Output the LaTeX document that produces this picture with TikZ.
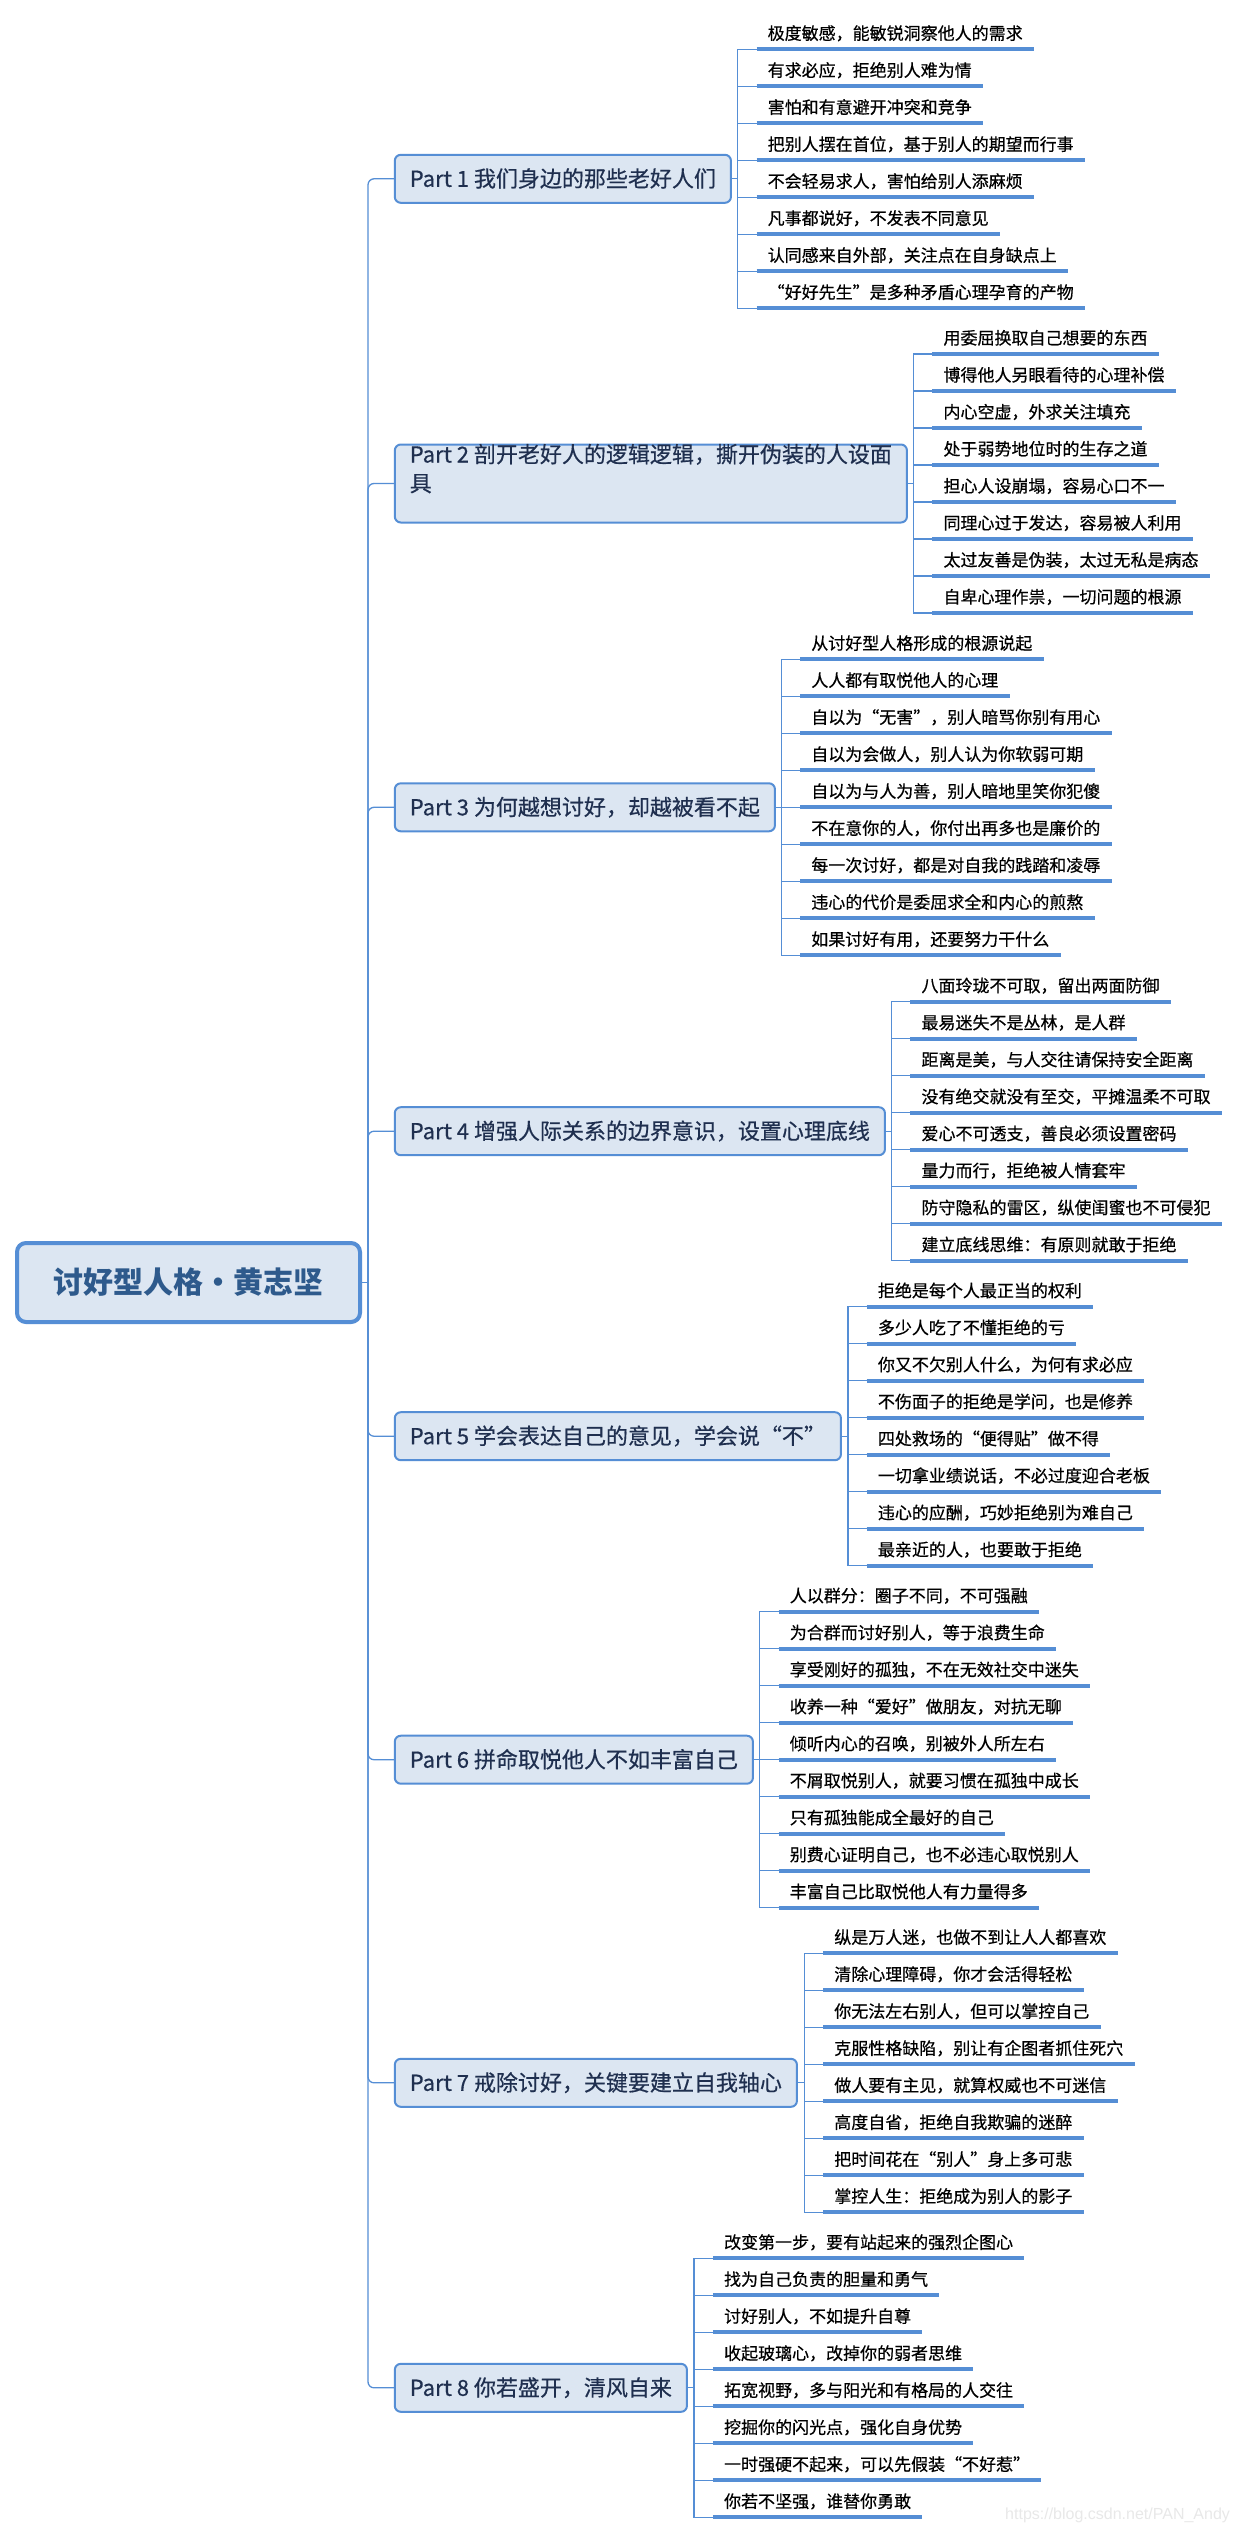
\documentclass[tikz,border=0pt]{standalone}
\usepackage{fontspec}
\setmainfont{Noto Sans CJK SC}
\newfontfamily\leaffont[FakeBold=0.5]{Noto Sans CJK SC}
\newfontfamily\wmfont{Liberation Sans}
\usetikzlibrary{calc}
\definecolor{xblue}{HTML}{558ED5}
\definecolor{xfill}{HTML}{DCE6F2}
\definecolor{roottext}{HTML}{2E5A8C}
\definecolor{parttext}{HTML}{1F2F4F}
\tikzset{
  rootbox/.style={draw=xblue, fill=xfill, line width=4pt, rounded corners=9pt,
    minimum width=343pt, minimum height=79pt, inner sep=0pt,
    text=roottext, font=\fontsize{30}{36}\selectfont\bfseries,
    text height=26pt, text depth=4pt},
  partbox/.style={draw=xblue, fill=xfill, line width=2pt, rounded corners=6pt,
    anchor=west, inner xsep=15pt, inner ysep=0pt, minimum height=48pt,
    text=parttext, font=\leaffont\fontsize{22}{29}\selectfont,
    text height=19pt, text depth=3pt},
  leaf/.style={anchor=south west, inner xsep=11pt, inner ysep=6pt,
    font=\leaffont\fontsize{17}{20}\selectfont, text=black,
    text height=12.5pt, text depth=3.5pt},
  uline/.style={draw=xblue, line width=4pt},
  conn/.style={draw=xblue, line width=1.3pt},
}
\newcommand\mybranch[5]{%
  \coordinate (v#1) at ({#2-18.8},{#4});
  \draw[conn] (#1.east) -- (v#1);
  \foreach \t [count=\i] in {#5} {
    \node[leaf] (#1-\i) at ({#2},{#3+37*(\i-1)}) {\t};
    \draw[uline] (#1-\i.south west) -- (#1-\i.south east);
    \draw[conn] (v#1) |- (#1-\i.south west);
  }
}
\begin{document}
\begin{tikzpicture}[x=1pt, y=-1pt]
\fill[white] (0,0) rectangle (1240,2534);
\useasboundingbox (0,0) rectangle (1240,2534);

\node[rootbox] (root) at (188.5,1282.5) {讨好型人格·黄志坚};

\node[partbox] (p1) at (393.8,178.8) {Part 1 我们身边的那些老好人们};
\node[partbox, minimum height=78pt, align=left] (p2) at (393.8,483.5) {Part 2 剖开老好人的逻辑逻辑，撕开伪装的人设面\\具};
\node[partbox] (p3) at (393.8,807.3) {Part 3 为何越想讨好，却越被看不起};
\node[partbox] (p4) at (393.8,1131.2) {Part 4 增强人际关系的边界意识，设置心理底线};
\node[partbox] (p5) at (393.8,1436.2) {Part 5 学会表达自己的意见，学会说“不”};
\node[partbox] (p6) at (393.8,1759.7) {Part 6 拼命取悦他人不如丰富自己};
\node[partbox] (p7) at (393.8,2082.8) {Part 7 戒除讨好，关键要建立自我轴心};
\node[partbox] (p8) at (393.8,2387.8) {Part 8 你若盛开，清风自来};

\coordinate (trunk) at (368,1282.5);
\draw[conn] (root.east) -- (trunk);
\foreach \p in {p1,p2,p3,p4,p5,p6,p7,p8}
  \draw[conn, rounded corners=6pt] (trunk) |- (\p.west);

\mybranch{p1}{756.5}{49.3}{178.8}{极度敏感，能敏锐洞察他人的需求,有求必应，拒绝别人难为情,害怕和有意避开冲突和竞争,把别人摆在首位，基于别人的期望而行事,不会轻易求人，害怕给别人添麻烦,凡事都说好，不发表不同意见,认同感来自外部，关注点在自身缺点上,“好好先生”是多种矛盾心理孕育的产物}
\mybranch{p2}{932.3}{354}{483.5}{用委屈换取自己想要的东西,博得他人另眼看待的心理补偿,内心空虚，外求关注填充,处于弱势地位时的生存之道,担心人设崩塌，容易心口不一,同理心过于发达，容易被人利用,太过友善是伪装，太过无私是病态,自卑心理作祟，一切问题的根源}
\mybranch{p3}{800.1}{659.3}{807.3}{从讨好型人格形成的根源说起,人人都有取悦他人的心理,自以为“无害”，别人暗骂你别有用心,自以为会做人，别人认为你软弱可期,自以为与人为善，别人暗地里笑你犯傻,不在意你的人，你付出再多也是廉价的,每一次讨好，都是对自我的践踏和凌辱,违心的代价是委屈求全和内心的煎熬,如果讨好有用，还要努力干什么}
\mybranch{p4}{910.3}{1001.7}{1131.2}{八面玲珑不可取，留出两面防御,最易迷失不是丛林，是人群,距离是美，与人交往请保持安全距离,没有绝交就没有至交，平摊温柔不可取,爱心不可透支，善良必须设置密码,量力而行，拒绝被人情套牢,防守隐私的雷区，纵使闺蜜也不可侵犯,建立底线思维：有原则就敢于拒绝}
\mybranch{p5}{866.7}{1306.7}{1436.2}{拒绝是每个人最正当的权利,多少人吃了不懂拒绝的亏,你又不欠别人什么，为何有求必应,不伤面子的拒绝是学问，也是修养,四处救场的“便得贴”做不得,一切拿业绩说话，不必过度迎合老板,违心的应酬，巧妙拒绝别为难自己,最亲近的人，也要敢于拒绝}
\mybranch{p6}{778.6}{1611.7}{1759.7}{人以群分：圈子不同，不可强融,为合群而讨好别人，等于浪费生命,享受刚好的孤独，不在无效社交中迷失,收养一种“爱好”做朋友，对抗无聊,倾听内心的召唤，别被外人所左右,不屑取悦别人，就要习惯在孤独中成长,只有孤独能成全最好的自己,别费心证明自己，也不必违心取悦别人,丰富自己比取悦他人有力量得多}
\mybranch{p7}{823.1}{1953.3}{2082.8}{纵是万人迷，也做不到让人人都喜欢,清除心理障碍，你才会活得轻松,你无法左右别人，但可以掌控自己,克服性格缺陷，别让有企图者抓住死穴,做人要有主见，就算权威也不可迷信,高度自省，拒绝自我欺骗的迷醉,把时间花在“别人”身上多可悲,掌控人生：拒绝成为别人的影子}
\mybranch{p8}{712.9}{2258.3}{2387.8}{改变第一步，要有站起来的强烈企图心,找为自己负责的胆量和勇气,讨好别人，不如提升自尊,收起玻璃心，改掉你的弱者思维,拓宽视野，多与阳光和有格局的人交往,挖掘你的闪光点，强化自身优势,一时强硬不起来，可以先假装“不好惹”,你若不坚强，谁替你勇敢}

\node[anchor=west, inner sep=0pt, text=black!9, font=\wmfont\fontsize{16}{19}\selectfont] (wm) at (1005,2515) {https://blog.csdn.net/PAN\_Andy};
\end{tikzpicture}
\end{document}
